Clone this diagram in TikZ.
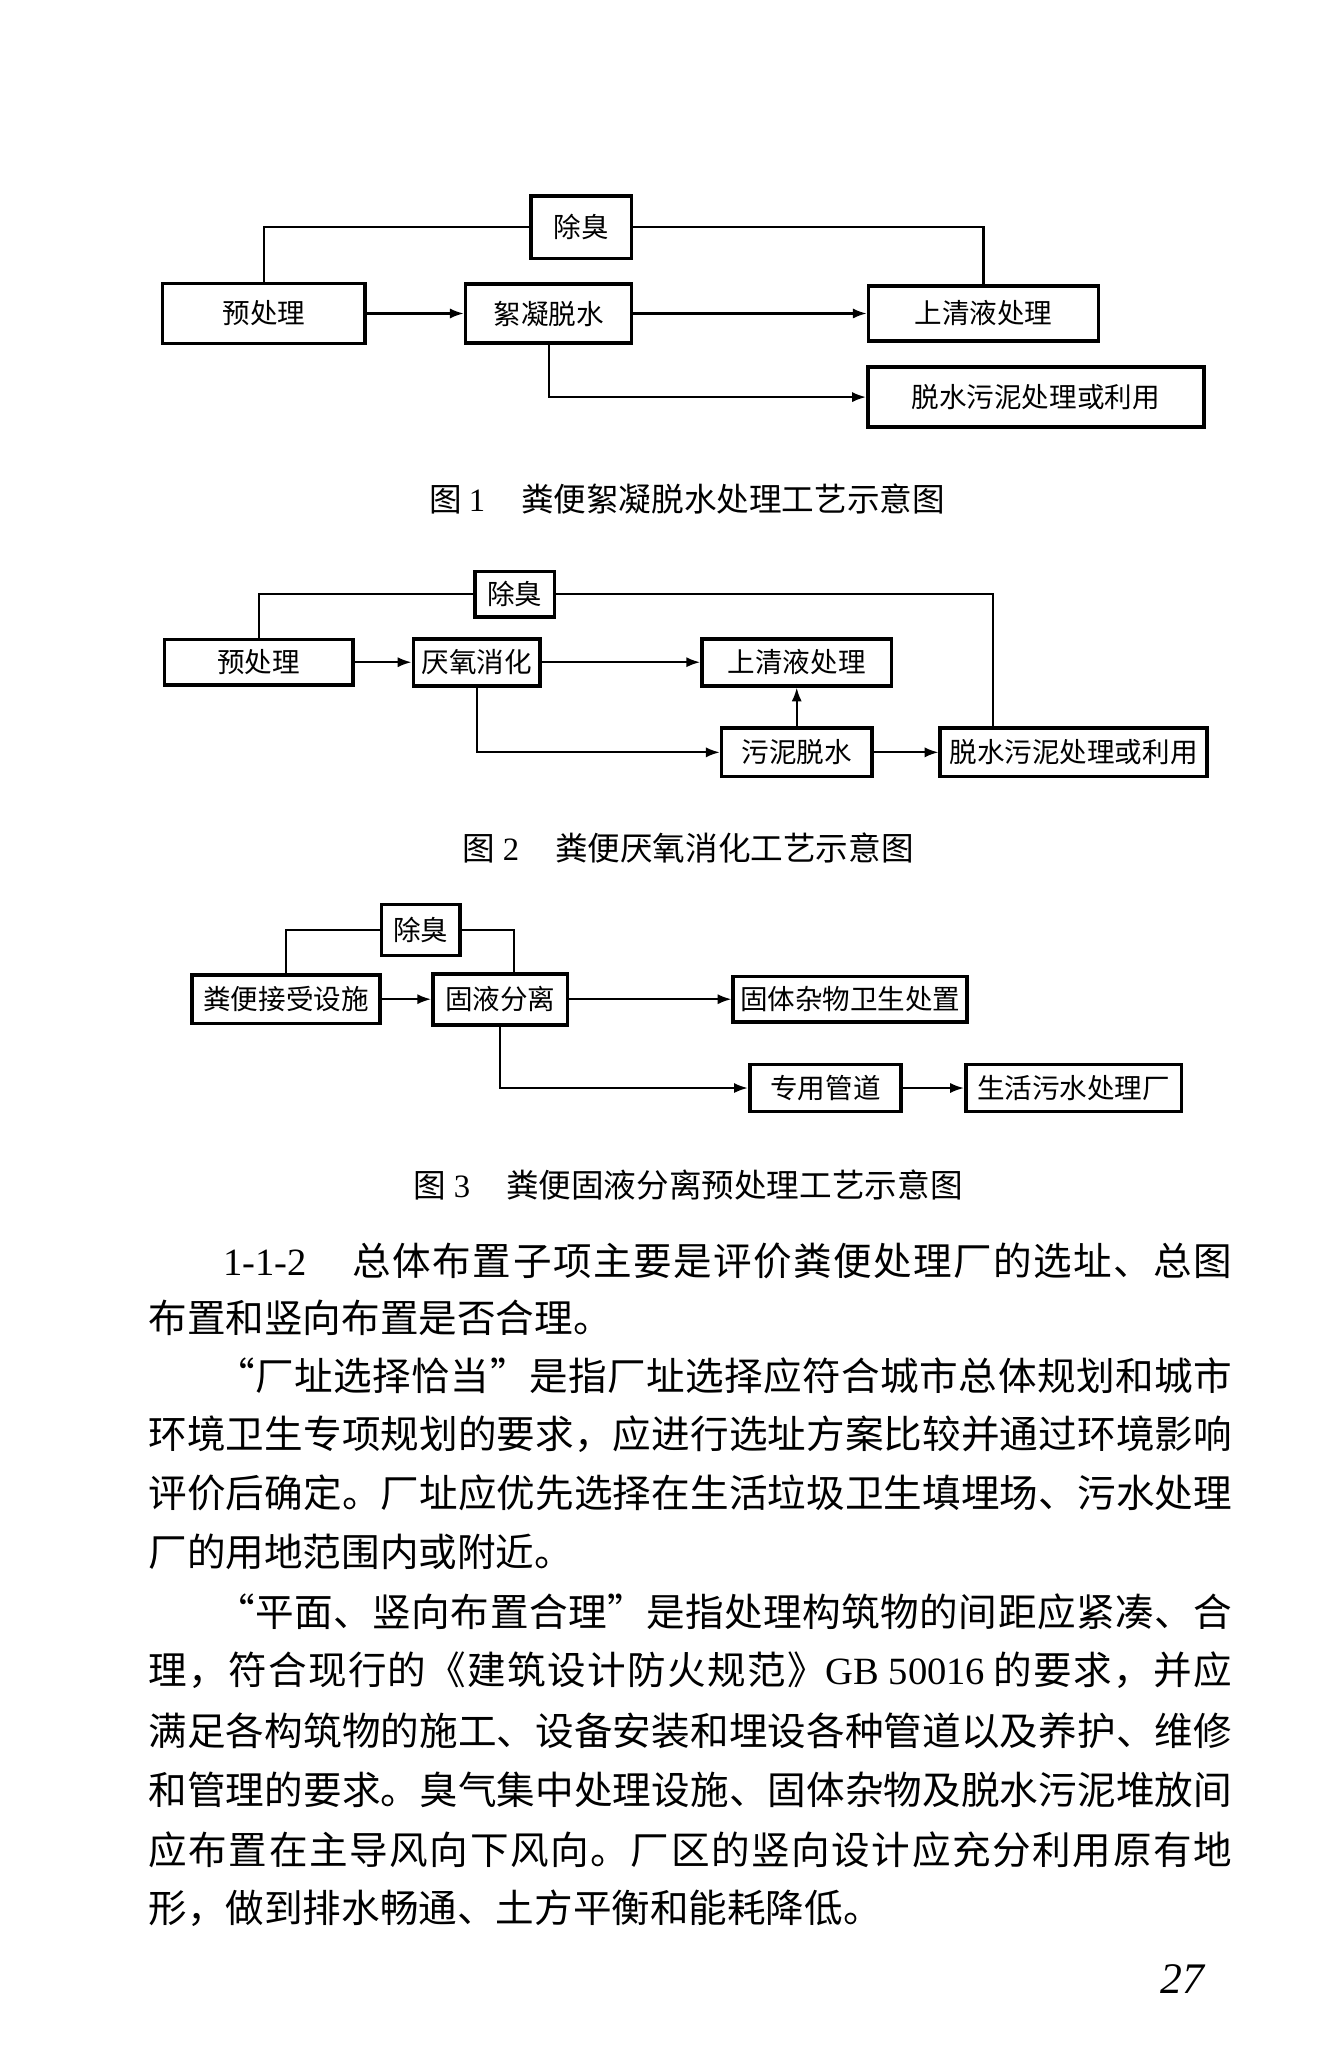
\documentclass[tikz,border=0pt]{standalone}
\usepackage{fontspec}
\newfontfamily\cnfont{Noto Sans CJK SC}
\newfontfamily\latin{Liberation Serif}
\usetikzlibrary{arrows.meta,calc}

% stretchable glue between CJK characters, for justified lines
\newXeTeXintercharclass\hanchar
\newXeTeXintercharclass\hanopen
\newXeTeXintercharclass\hanclose
\newcount\cjkcnt
\cjkcnt="4E00
\loop\ifnum\cjkcnt<"A000 \XeTeXcharclass\cjkcnt=\hanchar \advance\cjkcnt 1 \repeat
\XeTeXcharclass"300A=\hanopen
\XeTeXcharclass"201C=\hanopen
\XeTeXcharclass"300B=\hanclose
\XeTeXcharclass"201D=\hanclose
\XeTeXcharclass"FF0C=\hanclose
\XeTeXcharclass"3001=\hanclose
\XeTeXcharclass"3002=\hanclose
\XeTeXinterchartokenstate=1
\XeTeXinterchartoks\hanchar\hanchar = {\hskip 0pt plus 1fil}
\XeTeXinterchartoks\hanchar\hanclose = {\hskip 0pt plus 1fil}
\XeTeXinterchartoks\hanclose\hanchar = {\hskip 0pt plus 1fil}
\XeTeXinterchartoks\hanchar\hanopen = {\hskip 0pt plus 1fil}
\XeTeXinterchartoks\hanopen\hanchar = {\hskip 0pt plus 1fil}
\XeTeXinterchartoks\hanclose\hanopen = {\hskip 0pt plus 1fil}

\begin{document}
\begin{tikzpicture}[x=0.01cm,
					y=-0.01cm,
					>={Latex[length=3pt,width=2.2pt]},
					line width=0.45pt,
					box/.style={draw,line width=0.8pt,inner sep=0pt,
						font=\cnfont\fontsize{6}{7}\selectfont},
					caption/.style={font=\cnfont\fontsize{7.1}{8}\selectfont},
					body/.style={anchor=west,inner sep=0pt,
						font=\cnfont\fontsize{8.4}{10}\selectfont}]

  \useasboundingbox (0,0) rectangle (1021,1568);

  % figure 1
  \node[box, minimum width=0.77cm, minimum height=0.48cm] (odor1) at (445,174) {除臭};
  \node[box, minimum width=1.55cm, minimum height=0.46cm] (pre1) at (202,240) {预处理};
  \node[box, minimum width=1.27cm, minimum height=0.45cm] (floc) at (420,240) {絮凝脱水};
  \node[box, minimum width=1.76cm, minimum height=0.42cm] (clear1) at (753,240) {上清液处理};
  \node[box, minimum width=2.57cm, minimum height=0.46cm] (sludge1) at (793,304) {脱水污泥处理或利用};

  \draw (pre1.north) |- (odor1.west);
  \draw (odor1.east) -| (clear1.north);
  \draw[->] (pre1) -- (floc);
  \draw[->] (floc) -- (clear1);
  \draw[->] (floc.south) |- (sludge1.west);

  \node[caption] (cap1) at (526,382) {图 {\latin 1}\hspace{1.1em}粪便絮凝脱水处理工艺示意图};

  % figure 2
  \node[box, minimum width=0.61cm, minimum height=0.35cm] (odor2) at (394,455) {除臭};
  \node[box, minimum width=1.44cm, minimum height=0.35cm] (pre2) at (198,507) {预处理};
  \node[box, minimum width=0.97cm, minimum height=0.36cm] (anaer) at (365,507) {厌氧消化};
  \node[box, minimum width=1.45cm, minimum height=0.36cm] (clear2) at (610,507) {上清液处理};
  \node[box, minimum width=1.15cm, minimum height=0.37cm] (dewater) at (610,576) {污泥脱水};
  \node[box, minimum width=2.04cm, minimum height=0.37cm] (sludge2) at (822,576) {脱水污泥处理或利用};

  \draw (pre2.north) |- (odor2.west);
  \draw (odor2.east) -| ($(sludge2.north west)!0.2!(sludge2.north east)$);
  \draw[->] (pre2) -- (anaer);
  \draw[->] (anaer) -- (clear2);
  \draw[->] (anaer.south) |- (dewater.west);
  \draw[->] (dewater) -- (clear2);
  \draw[->] (dewater) -- (sludge2);

  \node[caption] (cap2) at (527,649) {图 {\latin 2}\hspace{1.1em}粪便厌氧消化工艺示意图};

  % figure 3
  \node[box, minimum width=0.60cm, minimum height=0.39cm] (odor3) at (322,712) {除臭};
  \node[box, minimum width=1.44cm, minimum height=0.37cm] (recv) at (219,765) {粪便接受设施};
  \node[box, minimum width=1.03cm, minimum height=0.39cm] (sep) at (383,765) {固液分离};
  \node[box, minimum width=1.79cm, minimum height=0.35cm] (solid) at (651,765) {固体杂物卫生处置};
  \node[box, minimum width=1.16cm, minimum height=0.36cm] (pipe) at (632,833) {专用管道};
  \node[box, minimum width=1.65cm, minimum height=0.36cm] (plant) at (822,833) {生活污水处理厂};

  \draw (recv.north) |- (odor3.west);
  \draw (odor3.east) -| ($(sep.north west)!0.6!(sep.north east)$);
  \draw[->] (recv) -- (sep);
  \draw[->] (sep) -- (solid);
  \draw[->] (sep.south) |- (pipe.west);
  \draw[->] (pipe) -- (plant);

  \node[caption] (cap3) at (527,907) {图 {\latin 3}\hspace{1.1em}粪便固液分离预处理工艺示意图};

  % text
  \node[body] (l1) at (170,965) {\makebox[7.72cm][s]{{\latin 1-1-2}\hspace{1.2em}总体布置子项主要是评价粪便处理厂的选址、总图}};
  \node[body] (l2) at (113,1009) {布置和竖向布置是否合理。};
  \node[body] (l3) at (165,1053) {\makebox[7.77cm][s]{“厂址选择恰当”是指厂址选择应符合城市总体规划和城市}};
  \node[body] (l4) at (113,1098) {\makebox[8.29cm][s]{环境卫生专项规划的要求，应进行选址方案比较并通过环境影响}};
  \node[body] (l5) at (113,1143) {\makebox[8.29cm][s]{评价后确定。厂址应优先选择在生活垃圾卫生填埋场、污水处理}};
  \node[body] (l6) at (113,1188) {厂的用地范围内或附近。};
  \node[body] (l7) at (165,1234) {\makebox[7.77cm][s]{“平面、竖向布置合理”是指处理构筑物的间距应紧凑、合}};
  \node[body] (l8) at (113,1279) {\makebox[8.29cm][s]{理，符合现行的《建筑设计防火规范》{\latin GB 50016} 的要求，并应}};
  \node[body] (l9) at (113,1325) {\makebox[8.29cm][s]{满足各构筑物的施工、设备安装和埋设各种管道以及养护、维修}};
  \node[body] (l10) at (113,1370) {\makebox[8.29cm][s]{和管理的要求。臭气集中处理设施、固体杂物及脱水污泥堆放间}};
  \node[body] (l11) at (113,1416) {\makebox[8.29cm][s]{应布置在主导风向下风向。厂区的竖向设计应充分利用原有地}};
  \node[body] (l12) at (113,1461) {形，做到排水畅通、土方平衡和能耗降低。};

  \node[font=\latin\itshape\fontsize{9.5}{11}\selectfont] (pnum) at (905,1515) {27};
\end{tikzpicture}
\end{document}
